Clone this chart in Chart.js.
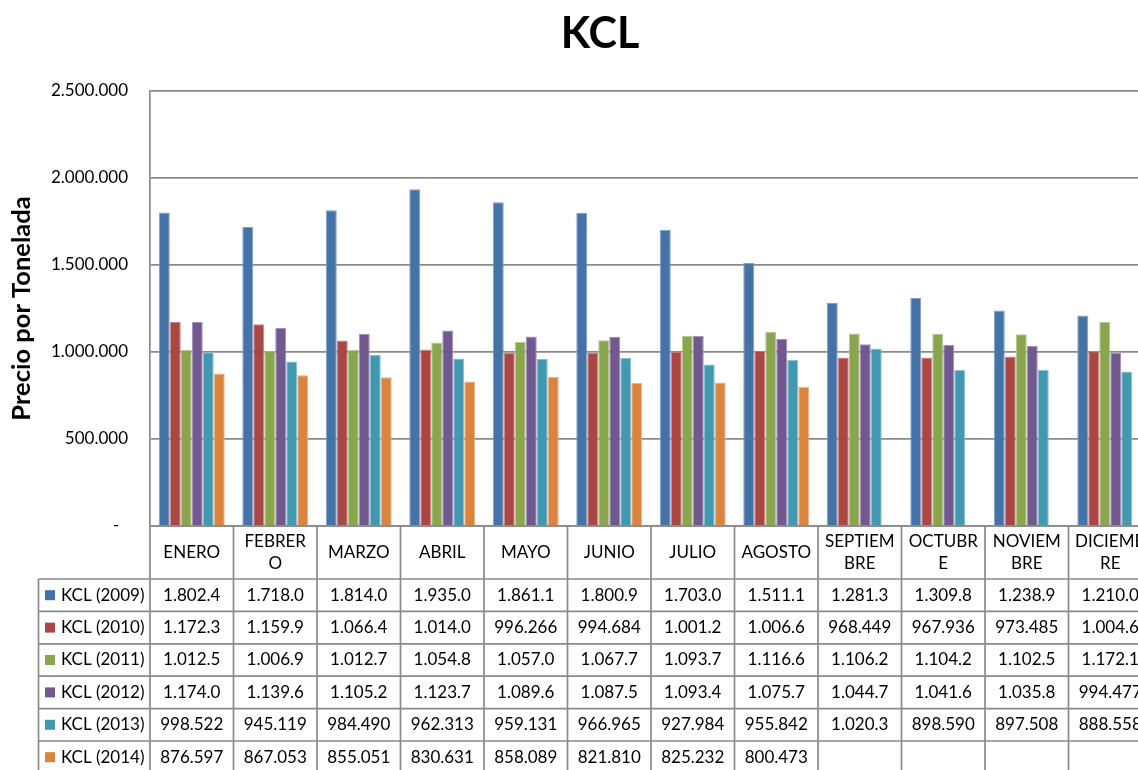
<!DOCTYPE html>
<html>
<head>
<meta charset="utf-8">
<script src="https://cdn.jsdelivr.net/npm/chart.js@4.4.1/dist/chart.umd.min.js"></script>
<style>
  html, body { margin: 0; padding: 0; background: #fff; overflow: hidden; }
  #wrap { width: 1200px; height: 770px; }
</style>
</head>
<body>
<div id="wrap"><canvas id="c" width="1200" height="770"></canvas></div>
<script>
// Months (header row of the data table, with the same line breaks as the cells)
const months = [
  ['ENERO'], ['FEBRER', 'O'], ['MARZO'], ['ABRIL'], ['MAYO'], ['JUNIO'],
  ['JULIO'], ['AGOSTO'], ['SEPTIEM', 'BRE'], ['OCTUBR', 'E'], ['NOVIEM', 'BRE'], ['DICIEMB', 'RE']
];

// Price per tonne, one array per year
const kcl2009 = [1802400, 1718000, 1814000, 1935000, 1861100, 1800900, 1703000, 1511100, 1281300, 1309800, 1238900, 1210000];
const kcl2010 = [1172300, 1159900, 1066400, 1014000, 996266, 994684, 1001200, 1006600, 968449, 967936, 973485, 1004600];
const kcl2011 = [1012500, 1006900, 1012700, 1054800, 1057000, 1067700, 1093700, 1116600, 1106200, 1104200, 1102500, 1172100];
const kcl2012 = [1174000, 1139600, 1105200, 1123700, 1089600, 1087500, 1093400, 1075700, 1044700, 1041600, 1035800, 994477];
const kcl2013 = [998522, 945119, 984490, 962313, 959131, 966965, 927984, 955842, 1020300, 898590, 897508, 888558];
const kcl2014 = [876597, 867053, 855051, 830631, 858089, 821810, 825232, 800473, null, null, null, null];

const seriesNames = ['KCL (2009)', 'KCL (2010)', 'KCL (2011)', 'KCL (2012)', 'KCL (2013)', 'KCL (2014)'];
const seriesData = [kcl2009, kcl2010, kcl2011, kcl2012, kcl2013, kcl2014];
const fills = ['#4572A7', '#AA4643', '#89A54E', '#71588F', '#4198AF', '#DB843D'];
const edges = ['#7FA0C8', '#CC8280', '#B3C98E', '#A08CBA', '#82C0D2', '#EDB285'];

const FONT = 'Lato, "Noto Sans", sans-serif';
const LINE = '#8a8a8a';

// thousands separated with dots, clipped to the cell width like the spreadsheet does
function cellText(v) {
  if (v === null || v === undefined) return '';
  return String(v).replace(/\B(?=(\d{3})+(?!\d))/g, '.').slice(0, 7);
}

// Chart heading, centred on the full sheet width (the right part runs past the window)
const heading = {
  id: 'heading',
  afterDraw(chart) {
    const ctx = chart.ctx;
    ctx.save();
    ctx.fillStyle = '#000';
    ctx.font = 'bold 43px ' + FONT;
    ctx.textAlign = 'center';
    ctx.textBaseline = 'middle';
    ctx.fillText('KCL', chart.width / 2, 34);
    ctx.restore();
  }
};

// Data table drawn under the plot, columns aligned on the category scale
const dataTable = {
  id: 'dataTable',
  afterDraw(chart) {
    const ctx = chart.ctx;
    const x = chart.scales.x;
    const area = chart.chartArea;
    const n = months.length;
    const colW = (area.right - area.left) / n;
    const top = area.bottom;
    const headBottom = top + 53;
    const rowH = 32.4;
    const tableBottom = headBottom + rowH * seriesNames.length + 2;
    const legLeft = 38.5;

    ctx.save();
    ctx.strokeStyle = LINE;
    ctx.lineWidth = 1.7;

    // horizontal rules
    ctx.beginPath();
    ctx.moveTo(area.left, top); ctx.lineTo(area.right, top);
    for (let r = 0; r <= seriesNames.length; r++) {
      const y = headBottom + r * rowH;
      ctx.moveTo(legLeft, y); ctx.lineTo(area.right, y);
    }
    // vertical rules
    for (let i = 0; i <= n; i++) {
      const xv = area.left + i * colW;
      ctx.moveTo(xv, top); ctx.lineTo(xv, tableBottom);
    }
    ctx.moveTo(legLeft, headBottom); ctx.lineTo(legLeft, tableBottom);
    ctx.stroke();

    ctx.fillStyle = '#000';
    ctx.font = '17px ' + FONT;
    ctx.textAlign = 'center';
    ctx.textBaseline = 'middle';

    // header row
    for (let i = 0; i < n; i++) {
      const cx = x.getPixelForValue(i);
      const lines = months[i];
      const lh = 22.5;
      const cy = (top + headBottom) / 2 - (lines.length - 1) * lh / 2;
      lines.forEach((t, k) => ctx.fillText(t, cx, cy + k * lh));
    }

    // series rows
    seriesNames.forEach((name, r) => {
      const cy = headBottom + r * rowH + rowH / 2;
      ctx.fillStyle = fills[r];
      ctx.fillRect(45, cy - 5, 10, 10);
      ctx.fillStyle = '#000';
      ctx.textAlign = 'left';
      ctx.fillText(name, 61, cy);
      ctx.textAlign = 'center';
      seriesData[r].forEach((v, i) => {
        ctx.fillText(cellText(v), x.getPixelForValue(i), cy);
      });
    });
    ctx.restore();
  }
};

new Chart(document.getElementById('c'), {
  type: 'bar',
  data: {
    labels: months.map(m => m.join('')),
    datasets: seriesNames.map((name, i) => ({
      label: name,
      data: seriesData[i],
      backgroundColor: fills[i],
      borderColor: edges[i],
      borderWidth: { top: 1, left: 1, right: 1, bottom: 0 },
      categoryPercentage: 0.79,
      barPercentage: 1.0
    }))
  },
  options: {
    responsive: false,
    animation: false,
    devicePixelRatio: 1,
    layout: { padding: { left: 0, right: 48, top: 91, bottom: 244 } },
    plugins: {
      legend: { display: false },
      tooltip: { enabled: false },
      title: { display: false }
    },
    scales: {
      x: { display: false },
      y: {
        min: 0,
        max: 2500000,
        afterFit(scale) { scale.width = 150; },
        ticks: {
          stepSize: 500000,
          padding: 22,
          color: '#000',
          font: { family: FONT, size: 17 },
          callback: v => v === 0 ? '-  ' : String(v).replace(/\B(?=(\d{3})+(?!\d))/g, '.')
        },
        grid: { color: LINE, lineWidth: 1.7, drawTicks: false },
        border: { display: true, color: LINE, width: 1.7 },
        title: {
          display: true,
          text: 'Precio por Tonelada',
          color: '#000',
          font: { family: FONT, size: 25.5, weight: 'bold', lineHeight: 1.2 },
          padding: { top: 6, bottom: 0 }
        }
      }
    }
  },
  plugins: [dataTable, heading]
});
</script>
</body>
</html>
